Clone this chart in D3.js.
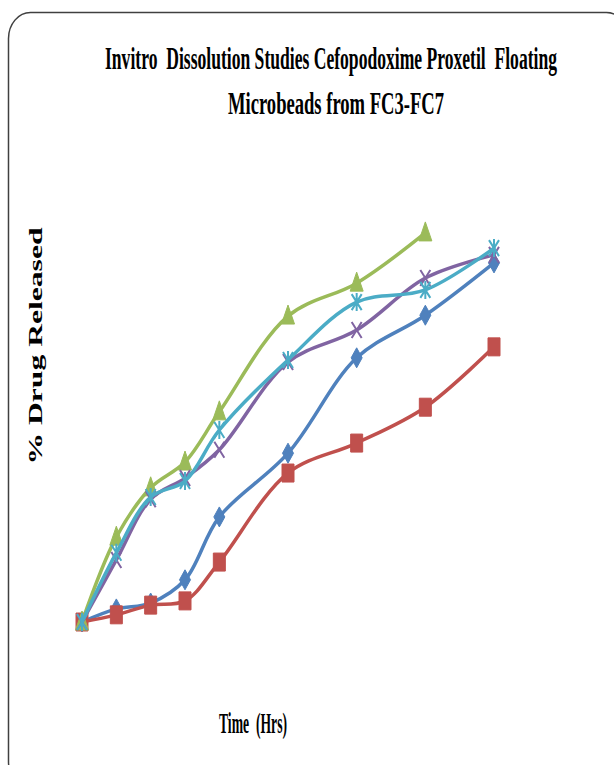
<!DOCTYPE html>
<html><head><meta charset="utf-8">
<script src="https://cdn.jsdelivr.net/npm/d3@7"></script>
<style>html,body{margin:0;padding:0;background:#fff;}svg{display:block;}text{white-space:pre;}</style>
</head><body>
<svg id="c" width="614" height="765"></svg>
<script>
const time = [0, 0.5, 1, 1.5, 2, 3, 4, 5, 6];
const FC3 = [0, 3.1, 4.5, 10.0, 24.9, 40.0, 62.6, 72.7, 85.1];
const FC4 = [0, 1.7, 4.0, 5.0, 14.2, 35.3, 42.4, 50.9, 65.2];
const FC5 = [0, 20.1, 31.8, 37.9, 49.8, 72.5, 80.3, 92.2];
const FC6 = [0, 14.7, 29.1, 34.1, 40.8, 61.6, 69.2, 81.5, 87.0];
const FC7 = [0, 16.4, 29.6, 33.4, 45.5, 62.1, 75.8, 78.7, 88.6];
const seriesNames = ["FC3", "FC4", "FC5", "FC6", "FC7"];
const seriesValues = [FC3, FC4, FC5, FC6, FC7];
const colors = ["#4F81BD", "#C0504D", "#9BBB59", "#8064A2", "#4BACC6"];
const markers = ["diamond", "square", "triangle", "x", "star"];

const svg = d3.select("#c");
svg.append("rect").attr("x", 8.5).attr("y", 12.5).attr("width", 620).attr("height", 775)
  .attr("rx", 22).attr("ry", 26).attr("fill", "#fff").attr("stroke", "#404040").attr("stroke-width", 1.5);

const x = d3.scaleLinear().domain([0, 6]).range([82, 494]);
const y = d3.scaleLinear().domain([0, 100]).range([622, 200]);

const line = d3.line().x(d => x(d[0])).y(d => y(d[1])).curve(d3.curveCatmullRom.alpha(0.5));

function markerPath(type) {
  switch (type) {
    case "diamond": return "M0,-10 L5.5,0 L0,10 L-5.5,0 Z";
    case "square": return "M-6,-9 L6,-9 L6,9 L-6,9 Z";
    case "triangle": return "M0,-11 L6.5,8 L-6.5,8 Z";
    case "x": return "M-5,-8 L5,8 M5,-8 L-5,8";
    case "star": return "M-5,-8 L5,8 M5,-8 L-5,8 M0,-9 L0,9";
  }
}

seriesValues.forEach((vals, i) => {
  const pts = vals.map((v, j) => [time[j], v]);
  const g = svg.append("g").attr("class", "series-" + seriesNames[i]);
  g.append("path").attr("d", line(pts)).attr("fill", "none")
    .attr("stroke", colors[i]).attr("stroke-width", 3.5).attr("stroke-linecap", "round");
  const filled = ["diamond", "square", "triangle"].includes(markers[i]);
  g.selectAll("path.m").data(pts).enter().append("path").attr("class", "m")
    .attr("transform", d => `translate(${x(d[0])},${y(d[1])})`)
    .attr("d", markerPath(markers[i]))
    .attr("fill", filled ? colors[i] : "none")
    .attr("stroke", colors[i]).attr("stroke-width", filled ? 1 : 2);
});

const serif = "'Liberation Serif','DejaVu Serif',serif";
svg.append("text").attr("transform", "translate(331,69) scale(1,1.95)").attr("text-anchor", "middle")
  .attr("font-family", serif).attr("font-weight", "bold").attr("font-size", 16)
  .attr("textLength", 452).attr("lengthAdjust", "spacingAndGlyphs")
  .text("Invitro  Dissolution Studies Cefopodoxime Proxetil  Floating");
svg.append("text").attr("transform", "translate(336,114) scale(1,1.95)").attr("text-anchor", "middle")
  .attr("font-family", serif).attr("font-weight", "bold").attr("font-size", 16)
  .attr("textLength", 216).attr("lengthAdjust", "spacingAndGlyphs")
  .text("Microbeads from FC3-FC7");
svg.append("text").attr("transform", "translate(42,346) rotate(-90)").attr("text-anchor", "middle")
  .attr("font-family", serif).attr("font-weight", "bold").attr("font-size", 18)
  .attr("textLength", 237).attr("lengthAdjust", "spacingAndGlyphs")
  .text("% Drug Released");
svg.append("text").attr("transform", "translate(253,733) scale(1,1.75)").attr("text-anchor", "middle")
  .attr("font-family", serif).attr("font-weight", "bold").attr("font-size", 17)
  .attr("textLength", 68).attr("lengthAdjust", "spacingAndGlyphs")
  .text("Time  (Hrs)");
</script>
</body></html>
